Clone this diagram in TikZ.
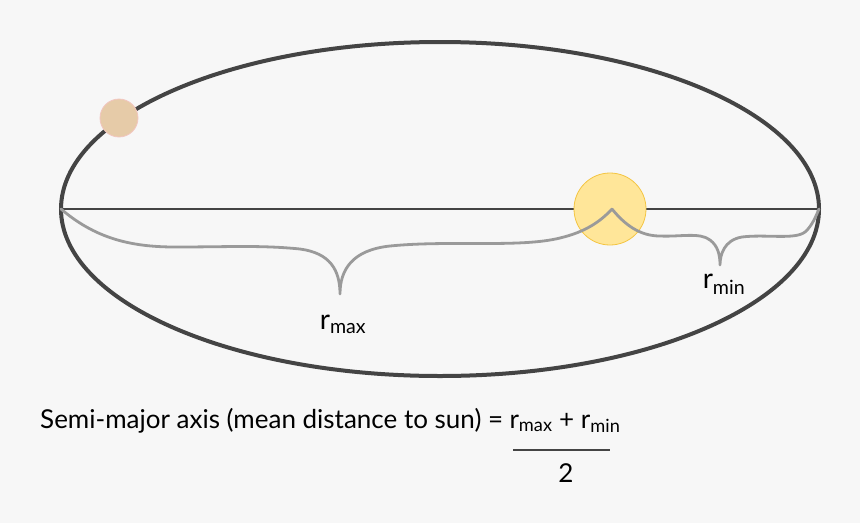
\documentclass[tikz,border=0pt]{standalone}
\usepackage{fontspec}
\setmainfont{Lato}
\usepackage{xcolor}
\usetikzlibrary{positioning, calc}
\definecolor{bgpaper}{HTML}{F7F7F7}
\definecolor{orbit}{HTML}{444444}
\definecolor{bracegray}{HTML}{9A9A9A}
\definecolor{sunfill}{HTML}{FFE699}
\definecolor{sunline}{HTML}{F4C542}
\definecolor{planetfill}{HTML}{E6CBA8}
\definecolor{planetline}{HTML}{F2C6C0}
\newcommand{\rsub}[1]{r\textsubscript{#1}}
\tikzset{
  orbitline/.style={draw=orbit, line width=4pt},
  axisline/.style={draw=orbit, line width=2.8pt},
  bracecurve/.style={draw=bracegray, line width=2.8pt, line cap=round, line join=round},
  body/.style={circle, inner sep=0pt},
  rlabel/.style={font=\fontsize{28}{30}\selectfont, inner sep=1pt},
  formula/.style={font=\fontsize{26}{28}\selectfont, inner sep=0pt},
}
\begin{document}
\begin{tikzpicture}[x=1pt, y=-1pt]
  %% Paper
  \fill[bgpaper] (0,0) rectangle (860,523);
  \useasboundingbox (0,0) rectangle (860,523);

  %% Orbit and major axis
  \coordinate (aphelion) at (61,209);
  \coordinate (perihelion) at (819,209);
  \draw[orbitline] (440,209) ellipse [x radius=379, y radius=167];
  \draw[axisline] (aphelion) -- (perihelion);

  %% Sun and planet
  \node[body, fill=sunfill, draw=sunline, line width=0.8pt, minimum size=72pt]
    (sun) at (610,209) {};
  \coordinate (focus) at (612,209);
  \node[body, fill=planetfill, draw=planetline, line width=0.8pt, minimum size=38pt]
    (planet) at (119,118) {};

  %% r_max brace
  \coordinate (maxtip) at (340,294);
  \draw[bracecurve] (aphelion)
    .. controls (95,238) and (130,247) .. (175,247)
    .. controls (230,247) and (260,245) .. (300,249)
    .. controls (330,253) and (340,270) .. (maxtip)
    .. controls (340,270) and (352,250) .. (390,246)
    .. controls (450,240) and (520,248) .. (560,238)
    .. controls (585,232) and (600,222) .. (focus);
  \node[rlabel] (rmax) at (343,324) {\rsub{max}};

  %% r_min brace
  \coordinate (mintip) at (720,265);
  \draw[bracecurve] (focus)
    .. controls (625,225) and (640,236) .. (660,236)
    .. controls (680,237) and (700,232) .. (710,240)
    .. controls (718,246) and (720,255) .. (mintip)
    .. controls (720,255) and (724,240) .. (742,237)
    .. controls (765,234) and (795,240) .. (805,232)
    .. controls (812,226) and (816,216) .. (perihelion);
  \node[rlabel] (rmin) at (724,284) {\rsub{min}};

  %% Formula
  \node[formula, anchor=base west] (semimajor) at (40,428)
    {Semi-major axis (mean distance to sun) =};
  \node[formula, right=6pt of semimajor.base east, anchor=base west]
    (numer) {\rsub{max} + \rsub{min}};
  \coordinate (barL) at (513,450);
  \coordinate (barR) at (610,450);
  \draw[orbit, line width=2.4pt] (barL) -- (barR);
  \node[formula] (denom) at (566,473) {2};
\end{tikzpicture}
\end{document}
